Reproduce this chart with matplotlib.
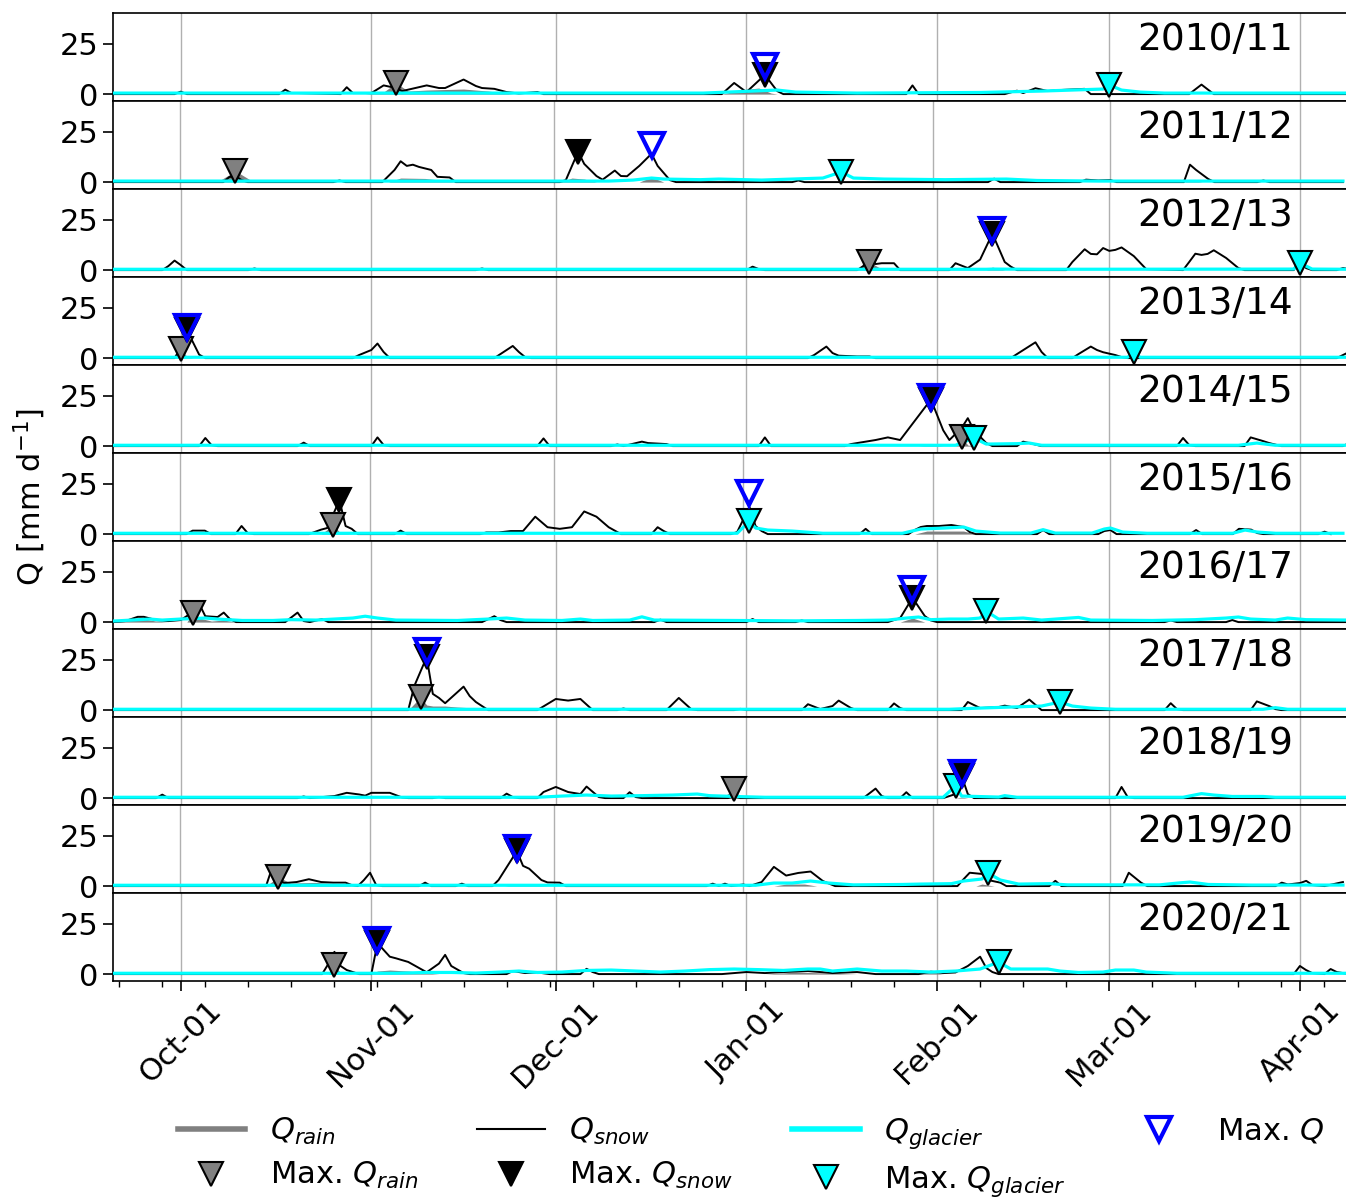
import matplotlib
matplotlib.use('Agg')
import matplotlib.pyplot as plt
import matplotlib.dates as mdates
from matplotlib.lines import Line2D
import pandas as pd

seasons = [2010, 2011, 2012, 2013, 2014, 2015, 2016, 2017, 2018, 2019, 2020]
season_labels = ['2010/11', '2011/12', '2012/13', '2013/14', '2014/15', '2015/16',
                 '2016/17', '2017/18', '2018/19', '2019/20', '2020/21']

# values as (days after 1 Oct, mm/d)
snow_2010 = [(-11, 0), (-1, 0), (0, 1.2), (1, 0), (16, 0), (17, 2.2), (18, 0.5), (19, 0.5), (26, 0), (27, 3.4),
             (28, 0.5), (31, 0.5), (33, 4.3), (35, 3), (36, 1.5), (40, 4.3), (42, 3), (43, 3), (46, 7.2), (48, 4),
             (49, 3), (51, 2.6), (53, 1), (55, 0.3), (58, 1), (59, 0), (88, 0), (90, 5.5), (92, 1), (95, 9.5),
             (97, 1.5), (98, 0), (118, 0), (119, 4.3), (120, 0), (134, 0), (136, 1.7), (137, 0.5), (139, 2.9),
             (141, 1.5), (143, 2), (145, 2.3), (147, 2.6), (148, 0), (164, 0), (166, 4.7), (168, 0), (190, 0)]
snow_2011 = [(-11, 0), (7, 0), (8, 2.5), (9, 3), (10, 1), (11, 0), (25, 0), (26, 0.8), (27, 0), (33, 0), (35, 6),
             (36, 10.3), (37, 8), (38, 8.6), (39, 7.5), (41, 6), (42, 2.6), (44, 2.3), (45, 0), (62, 0), (63, 1),
             (65, 15), (66, 9), (68, 3), (69, 1.2), (71, 5.7), (72, 3), (73, 2.9), (75, 8), (77, 14), (78, 8),
             (80, 1), (81, 0), (100, 0), (101, 0.8), (102, 0), (132, 0), (133, 1.7), (134, 0), (147, 0), (148, 1.2),
             (150, 0.8), (152, 1), (153, 0), (164, 0), (165, 8.6), (166, 6), (168, 1.5), (169, 0), (176, 0),
             (177, 0.8), (178, 0), (190, 0)]
snow_2012 = [(-11, 0), (-3, 0), (-2, 2), (-1, 4.7), (0, 2.5), (1, 0), (11, 0), (12, 0.8), (13, 0), (48, 0), (49, 0.8),
             (50, 0), (92, 0), (93, 1.7), (94, 0.5), (95, 0), (110, 0), (111, 2), (112, 8), (113, 3), (114, 3.4),
             (116, 3.4), (117, 0), (125, 0), (126, 3.4), (128, 1), (130, 5.2), (132, 18), (134, 4), (135, 1.7),
             (136, 0), (144, 0), (145, 4), (147, 10.3), (148, 8), (149, 7.8), (150, 10.9), (151, 9.5), (152, 10),
             (153, 11.2), (155, 6.9), (157, 0.5), (163, 0), (164, 4), (165, 8.1), (166, 7.5), (167, 8), (168, 9.8),
             (170, 6), (172, 1), (173, 0), (181, 0), (182, 6), (183, 1), (184, 0), (188, 0), (189, 1), (190, 0.5)]
snow_2013 = [(-11, 0), (-1, 0), (0, 5), (1, 14), (2, 7.8), (3, 1.7), (4, 0), (28, 0), (29, 1.5), (31, 4), (32, 7.2),
             (33, 3), (34, 0), (51, 0), (52, 2), (54, 6), (55, 3), (56, 0.5), (57, 0), (102, 0), (103, 1.5),
             (105, 5.7), (106, 2.5), (107, 1.2), (110, 0.8), (112, 0.8), (113, 0), (135, 0), (136, 2), (139, 7.8),
             (140, 3), (141, 0), (145, 0), (146, 2), (148, 5.7), (149, 4), (150, 2.9), (152, 1.5), (153, 0.5),
             (154, 0), (188, 0), (189, 1.5), (190, 3)]
snow_2014 = [(-11, 0), (3, 0), (4, 4), (5, 0.5), (6, 0), (19, 0), (20, 1.7), (21, 0), (31, 0), (32, 4.3), (33, 0.5),
             (34, 0), (58, 0), (59, 3.8), (60, 0), (70, 0), (71, 0.8), (72, 0), (75, 2.2), (76, 1.5), (79, 1),
             (80, 0), (94, 0), (95, 4.3), (96, 0), (108, 0), (109, 1), (111, 2), (113, 3), (115, 4.3), (117, 3),
             (122, 23), (124, 7.8), (125, 3), (127, 9), (128, 13.8), (129, 7.8), (131, 1.5), (132, 0), (136, 0),
             (137, 2.2), (138, 1.5), (140, 0), (162, 0), (163, 4), (164, 0.5), (165, 0), (173, 0), (174, 4.3),
             (176, 2.5), (177, 1.5), (179, 0), (189, 0), (190, 1.5)]
snow_2015 = [(-11, 0), (1, 0), (2, 1.7), (4, 1.7), (5, 0), (9, 0), (10, 4), (11, 0.5), (12, 0), (21, 0), (23, 2.2),
             (24, 3), (26, 16.8), (27, 4), (28, 2.6), (29, 0), (35, 0), (36, 1.7), (37, 0), (49, 0), (50, 0.8),
             (52, 0.8), (54, 1.5), (56, 1.5), (58, 8.6), (60, 3.4), (62, 2.6), (64, 3.4), (66, 11.2), (68, 8.6),
             (70, 3.4), (72, 0), (77, 0), (78, 3.4), (79, 1.5), (80, 0), (90, 0), (91, 1), (93, 13.5), (94, 4),
             (95, 1.5), (96, 0), (111, 0), (112, 2.6), (113, 0), (119, 0), (120, 2), (121, 3.5), (122, 4), (124, 4),
             (126, 4.5), (128, 3.5), (129, 1), (130, 0), (140, 0), (141, 2), (142, 0), (150, 0), (151, 1.5),
             (152, 2), (153, 0), (165, 0), (166, 2), (167, 0), (172, 0), (173, 2.6), (175, 2.2), (176, 0.5),
             (177, 0), (186, 0), (187, 1.2), (188, 0)]
snow_2016 = [(-11, 0), (-9, 0.5), (-7, 2.6), (-6, 2.6), (-4, 1), (-2, 0.5), (0, 1), (1, 3), (2, 4), (3, 9.1),
             (4, 2.9), (6, 2.5), (7, 4.7), (8, 1.5), (9, 0), (17, 0), (19, 4.7), (20, 0.5), (21, 0), (23, 1.5),
             (24, 0), (49, 0), (51, 2.9), (52, 1), (53, 0), (77, 0), (78, 1.2), (79, 0), (92, 0), (93, 1.5), (94, 0),
             (100, 0), (101, 0.8), (102, 0), (115, 0), (117, 2), (119, 12), (121, 3), (122, 0.8), (123, 0),
             (160, 0), (161, 0.8), (162, 0), (170, 0), (171, 1), (172, 0), (190, 0)]
snow_2017 = [(-11, 0), (37, 0), (38, 12), (40, 26.2), (41, 8), (42, 6), (43, 3.4), (46, 11.6), (47, 6.9), (48, 4),
             (50, 0), (58, 0), (61, 5.5), (63, 4.7), (65, 5.5), (67, 0), (71, 0), (72, 0.8), (73, 0), (79, 0),
             (81, 6), (83, 0.5), (84, 0), (90, 0), (91, 0.6), (92, 0), (101, 0), (102, 2.9), (104, 0.5), (106, 2),
             (107, 4.7), (109, 1), (110, 0), (115, 0), (116, 3.3), (117, 1), (118, 0), (127, 0), (128, 4), (130, 1),
             (133, 1.5), (134, 2.2), (136, 1), (138, 5.2), (140, 0), (160, 0), (161, 3.4), (162, 0.5), (163, 0),
             (174, 0), (175, 4.3), (177, 2), (178, 0.5), (179, 0), (190, 0)]
snow_2018 = [(-11, 0), (-4, 0), (-3, 1.7), (-2, 0), (19, 0), (20, 0.8), (21, 0), (23, 0.5), (25, 1), (27, 2.6),
             (29, 1.8), (30, 1.2), (31, 2.6), (34, 2.6), (36, 0.3), (37, 0), (41, 0), (42, 0.6), (43, 0), (52, 0),
             (53, 2.2), (54, 0.5), (55, 0), (58, 0), (59, 3), (61, 5.5), (63, 3), (65, 2), (66, 5.7), (68, 0.5),
             (69, 0), (72, 0), (73, 2.9), (74, 0.5), (75, 0), (89, 0), (90, 0.8), (91, 0), (111, 0), (113, 4.7),
             (114, 1), (115, 0), (117, 0), (118, 2.9), (119, 0), (124, 0), (126, 2), (127, 10.9), (128, 2), (129, 0),
             (152, 0), (153, 5.5), (154, 0.5), (155, 0), (190, 0)]
snow_2019 = [(-11, 0), (14, 0), (15, 9.1), (16, 3), (17, 1.5), (19, 2), (21, 3.4), (23, 2), (25, 1.7), (27, 1.7),
             (28, 0.5), (29, 0), (30, 3), (31, 6.6), (32, 0.5), (33, 0), (39, 0), (40, 1.7), (41, 0), (45, 0),
             (46, 1.2), (47, 0), (51, 0), (52, 3), (55, 17.3), (56, 10), (57, 8.6), (59, 3), (60, 1.8), (62, 1.7),
             (63, 0), (86, 0), (87, 1.2), (88, 0), (89, 1.2), (90, 0), (92, 0.8), (93, 0), (95, 2), (97, 9.5),
             (99, 5.2), (101, 6.5), (103, 7.2), (105, 2.5), (107, 0), (127, 0), (128, 3.4), (129, 6.6), (131, 6),
             (132, 3), (134, 1.7), (135, 0), (142, 0), (143, 2.6), (144, 0), (154, 0), (155, 6.6), (157, 1.7),
             (158, 0), (179, 0), (180, 1.7), (181, 0.8), (183, 1.5), (184, 2.6), (185, 0.5), (187, 0), (190, 2)]
snow_2020 = [(-11, 0), (23, 0), (24, 5), (25, 11), (26, 4), (27, 2), (29, 0), (31, 0), (32, 15.3), (34, 8.6),
             (35, 7.8), (37, 6), (40, 0.9), (42, 5.2), (43, 9.5), (44, 4), (46, 0.5), (47, 0), (53, 0), (54, 1.5),
             (56, 0.5), (58, 0.8), (60, 0), (65, 0), (66, 2.6), (67, 1), (68, 0), (88, 0), (92, 1), (95, 0.5),
             (98, 1), (102, 1.5), (106, 0.5), (110, 1), (113, 0), (120, 0), (122, 1.2), (124, 0.5), (126, 0.8),
             (128, 4), (130, 8.6), (131, 3), (132, 1), (133, 0), (181, 0), (182, 4), (183, 2), (184, 0.5), (186, 0),
             (187, 2.5), (188, 1), (190, 0)]

rain_2010 = [(30, 0), (33, 1), (35, 5.5), (37, 1.5), (40, 2), (46, 2.5), (50, 1.5), (54, 0), (88, 0), (91, 2),
             (94, 3), (96, 0.5), (97, 0)]
rain_2011 = [(6, 0), (9, 5.5), (12, 0), (34, 0), (36, 2), (40, 1.8), (43, 0.8), (45, 0), (62, 0), (64, 2),
             (66, 1.5), (68, 0), (75, 0), (77, 2.5), (79, 0), (164, 0), (165, 1), (167, 0)]
rain_2012 = [(110, 0), (112, 4), (114, 0.5), (115, 0), (131, 0), (132, 1.5), (134, 0)]
rain_2013 = [(-1, 0), (0, 4.5), (1, 0.8), (2, 0), (72, 0), (73, 0.8), (74, 0)]
rain_2014 = [(120, 0), (122, 0.8), (124, 0), (126, 0), (127, 4.5), (128, 0.5), (129, 0)]
rain_2015 = [(23, 0), (25, 4.5), (26, 1), (28, 0), (120, 0), (122, 1.5), (128, 1.5), (130, 0)]
rain_2016 = [(-11, 0), (-8, 1), (-6, 1.5), (-4, 0.5), (-2, 0), (1, 0), (2, 4.5), (3, 2), (5, 0.5), (7, 1), (9, 0),
             (117, 0), (119, 2), (121, 0)]
rain_2017 = [(37, 0), (39, 6.4), (40, 2.5), (41, 2), (43, 2), (45, 1.5), (48, 1), (50, 0)]
rain_2018 = [(88, 0), (90, 4.5), (91, 0.5), (92, 0), (126, 0), (127, 0.5), (128, 0), (152, 0), (153, 1), (154, 0)]
rain_2019 = [(14, 0), (16, 4.5), (18, 1.5), (22, 1.8), (26, 1.2), (28, 0), (53, 0), (55, 1), (58, 0.5), (60, 0),
             (97, 0), (99, 1), (102, 1), (104, 0), (130, 0), (131, 1), (133, 0)]
rain_2020 = [(24, 0), (25, 4.5), (26, 0.5), (27, 0), (31, 0), (32, 1.5), (34, 2), (37, 1.5), (40, 0.5), (42, 0),
             (95, 0), (100, 1), (105, 0.5), (110, 0), (119, 0), (122, 1), (124, 0)]

glacier_2010 = [(-11, 0.5), (85, 0.5), (93, 1.5), (97, 2), (100, 1), (110, 0.5), (130, 0.8), (140, 1.5), (145, 2),
                (150, 2.5), (151, 4.5), (153, 2), (156, 1), (160, 0.5), (190, 0.5)]
glacier_2011 = [(-11, 0.5), (70, 0.5), (74, 1), (77, 2), (79, 1.5), (85, 1.2), (88, 1.5), (95, 1), (100, 1.5),
                (105, 2), (108, 5), (110, 2), (115, 1.5), (125, 1.2), (135, 1.5), (140, 0.8), (150, 0.5), (190, 0.5)]
glacier_2012 = [(-11, 0.4), (131, 0.4), (132, 0.5), (140, 0.4), (181, 0.5), (182, 3.5), (184, 0.5), (190, 0.4)]
glacier_2013 = [(-11, 0.4), (154, 0.4), (155, 3), (156, 0.4), (190, 0.4)]
glacier_2014 = [(-11, 0.4), (126, 0.4), (129, 4), (131, 1), (136, 1.2), (138, 1.5), (140, 0.4), (172, 0.4),
                (175, 1.5), (178, 0.4), (190, 0.4)]
glacier_2015 = [(-11, 0.4), (91, 0.4), (93, 6.4), (94, 3), (96, 2), (100, 1.5), (105, 0.4), (118, 0.4), (121, 2.5),
                (125, 3), (128, 3.5), (130, 1.5), (134, 0.5), (139, 0.5), (141, 2.2), (143, 0.5), (149, 0.5),
                (151, 2.5), (152, 3), (154, 1), (158, 0.4), (172, 0.4), (174, 2), (176, 1), (179, 0.4), (190, 0.4)]
glacier_2016 = [(-11, 0.5), (-5, 1.5), (-3, 1), (0, 1.5), (4, 2), (6, 1.5), (10, 0.8), (15, 0.8), (18, 1.2), (22, 1),
                (28, 2), (30, 2.9), (32, 2), (35, 1), (45, 0.8), (50, 1.5), (53, 2), (56, 1), (62, 0.8), (65, 1.5),
                (67, 0.8), (73, 1), (75, 2.6), (77, 1), (90, 0.8), (100, 0.6), (110, 0.8), (115, 1), (118, 2),
                (120, 2.5), (122, 1.2), (125, 1.5), (128, 1.5), (130, 2), (131, 5.4), (133, 1.5), (137, 2), (140, 1),
                (146, 2.3), (148, 1), (158, 0.8), (165, 1.2), (170, 2), (172, 2.5), (174, 1.5), (178, 1), (180, 2),
                (183, 1.2), (190, 1)]
glacier_2017 = [(-11, 0.4), (125, 0.4), (130, 1), (135, 1.5), (140, 2), (143, 4), (145, 2), (148, 1), (152, 0.4),
                (176, 0.4), (178, 1.2), (180, 0.4), (190, 0.4)]
glacier_2018 = [(-11, 0.4), (58, 0.4), (62, 1), (66, 1.5), (70, 1), (75, 1.2), (80, 1.5), (84, 2), (86, 1.2),
                (90, 0.8), (95, 0.4), (124, 0.4), (126, 6), (127, 1), (133, 0.5), (134, 1.2), (136, 0.4), (163, 0.4),
                (166, 2.2), (168, 1.5), (171, 0.8), (176, 0.8), (178, 0.4), (190, 0.4)]
glacier_2019 = [(-11, 0.4), (94, 0.4), (97, 1.5), (100, 1.5), (103, 2.5), (106, 1.5), (110, 0.6), (118, 0.8),
                (121, 1), (126, 1.2), (128, 2.5), (131, 3.5), (132, 6.4), (134, 3), (137, 1), (142, 1.2), (145, 0.6),
                (160, 0.6), (163, 1.5), (165, 2), (168, 0.8), (175, 0.5), (190, 0.5)]
glacier_2020 = [(-11, 0.4), (35, 0.4), (40, 0.8), (44, 0.8), (48, 0.5), (52, 1), (55, 1.5), (58, 0.8), (62, 1),
                (66, 1.8), (70, 2), (74, 1.5), (78, 1), (82, 1.5), (86, 2.2), (90, 2.5), (94, 2.2), (98, 1.8),
                (102, 2.5), (104, 2.5), (106, 1.5), (110, 2.5), (112, 2), (114, 1.5), (118, 1.5), (122, 1),
                (126, 1.5), (130, 2.5), (133, 5.9), (135, 2.5), (138, 2.5), (141, 2.5), (143, 1.5), (146, 0.8),
                (150, 1), (152, 2), (155, 2), (157, 1), (162, 0.4), (190, 0.4)]

snow = [snow_2010, snow_2011, snow_2012, snow_2013, snow_2014, snow_2015, snow_2016, snow_2017, snow_2018,
        snow_2019, snow_2020]
rain = [rain_2010, rain_2011, rain_2012, rain_2013, rain_2014, rain_2015, rain_2016, rain_2017, rain_2018,
        rain_2019, rain_2020]
glacier = [glacier_2010, glacier_2011, glacier_2012, glacier_2013, glacier_2014, glacier_2015, glacier_2016,
           glacier_2017, glacier_2018, glacier_2019, glacier_2020]

# seasonal maxima (days after 1 Oct, mm/d)
max_rain = [(35, 5.5), (9, 5.5), (112, 4), (0, 4.5), (127, 4.5), (25, 4.5), (2, 4.5), (39, 6.4), (90, 4.5),
            (16, 4.5), (25, 4.5)]
max_snow = [(95, 9.5), (65, 15), (132, 18), (1, 14), (122, 23), (26, 16.8), (119, 12), (40, 26.2), (127, 10.9),
            (55, 17.3), (32, 15.3)]
max_glacier = [(151, 4.5), (108, 5), (182, 3.5), (155, 3), (129, 4), (93, 6.4), (131, 5.4), (143, 4), (126, 6),
               (132, 6.4), (133, 5.9)]
max_total = [(95, 14), (77, 18.5), (132, 20), (1, 15.3), (122, 24.3), (93, 20.3), (119, 16.5), (40, 29.2),
             (127, 12.4), (55, 18.8), (32, 16.8)]


def to_dates(year, pts):
    days = [p[0] for p in pts]
    vals = [p[1] for p in pts]
    return pd.Timestamp(f'{year}-10-01') + pd.to_timedelta(days, unit='D'), vals


plt.rcParams['font.size'] = 22
plt.rcParams['axes.linewidth'] = 1.2

fig, axes = plt.subplots(len(seasons), 1, figsize=(13.46, 11.98), dpi=100)
fig.subplots_adjust(left=0.084, right=1.0, top=0.989, bottom=0.181, hspace=0)

ms = 17
for i, (ax, yr) in enumerate(zip(axes, seasons)):
    t, v = to_dates(yr, rain[i])
    ax.fill_between(t, 0, v, color='grey', lw=0, zorder=2)
    t, v = to_dates(yr, snow[i])
    ax.plot(t, v, color='black', lw=1.4, zorder=3)
    t, v = to_dates(yr, glacier[i])
    ax.plot(t, v, color='cyan', lw=2.3, zorder=4)

    t, v = to_dates(yr, [max_rain[i]])
    ax.plot(t, v, 'v', ms=ms, mfc='grey', mec='black', mew=1.5, zorder=5)
    t, v = to_dates(yr, [max_glacier[i]])
    ax.plot(t, v, 'v', ms=ms, mfc='cyan', mec='black', mew=1.5, zorder=6)
    t, v = to_dates(yr, [max_snow[i]])
    ax.plot(t, v, 'v', ms=ms, mfc='black', mec='black', mew=1.5, zorder=7)
    t, v = to_dates(yr, [max_total[i]])
    ax.plot(t, v, 'v', ms=ms, mfc='none', mec='blue', mew=3, zorder=8)

    ax.set_xlim(pd.Timestamp(f'{yr}-09-20'), pd.Timestamp(f'{yr + 1}-04-08 12:00'))
    ax.set_ylim(-3.5, 40)
    ax.set_yticks([0, 25])
    ax.xaxis.set_major_locator(mdates.MonthLocator())
    ax.xaxis.set_minor_locator(mdates.WeekdayLocator(byweekday=mdates.MO))
    ax.xaxis.set_major_formatter(mdates.DateFormatter('%b-01'))
    ax.grid(axis='x', which='major', color='#b0b0b0', lw=1, zorder=0)
    ax.tick_params(axis='x', which='major', length=7, width=1.2)
    ax.tick_params(axis='x', which='minor', length=4, width=1)
    ax.tick_params(axis='y', length=7, width=1.2)
    ax.spines['right'].set_visible(False)
    ax.text(0.957, 0.9, season_labels[i], ha='right', va='top', fontsize=27, transform=ax.transAxes)
    if i < len(seasons) - 1:
        ax.tick_params(labelbottom=False)
    else:
        plt.setp(ax.get_xticklabels(), rotation=45)

fig.text(0.022, 0.585, 'Q [mm d$^{-1}$]', rotation=90, ha='center', va='center', fontsize=22)

handles = [
    Line2D([], [], color='grey', lw=4),
    Line2D([], [], ls='', marker='v', ms=ms, mfc='grey', mec='black', mew=1.5),
    Line2D([], [], color='black', lw=1.5),
    Line2D([], [], ls='', marker='v', ms=ms, mfc='black', mec='black', mew=1.5),
    Line2D([], [], color='cyan', lw=4),
    Line2D([], [], ls='', marker='v', ms=ms, mfc='cyan', mec='black', mew=1.5),
    Line2D([], [], ls='', marker='v', ms=ms, mfc='none', mec='blue', mew=3),
]
labels = ['$Q_{rain}$', 'Max. $Q_{rain}$', '$Q_{snow}$', 'Max. $Q_{snow}$',
          '$Q_{glacier}$', 'Max. $Q_{glacier}$', 'Max. $Q$']
fig.legend(handles, labels, ncol=4, loc='lower center', bbox_to_anchor=(0.558, -0.024), frameon=False,
           fontsize=22, handlelength=2.2, columnspacing=1.95, labelspacing=0.45)

fig.savefig('out.png', dpi=100)
